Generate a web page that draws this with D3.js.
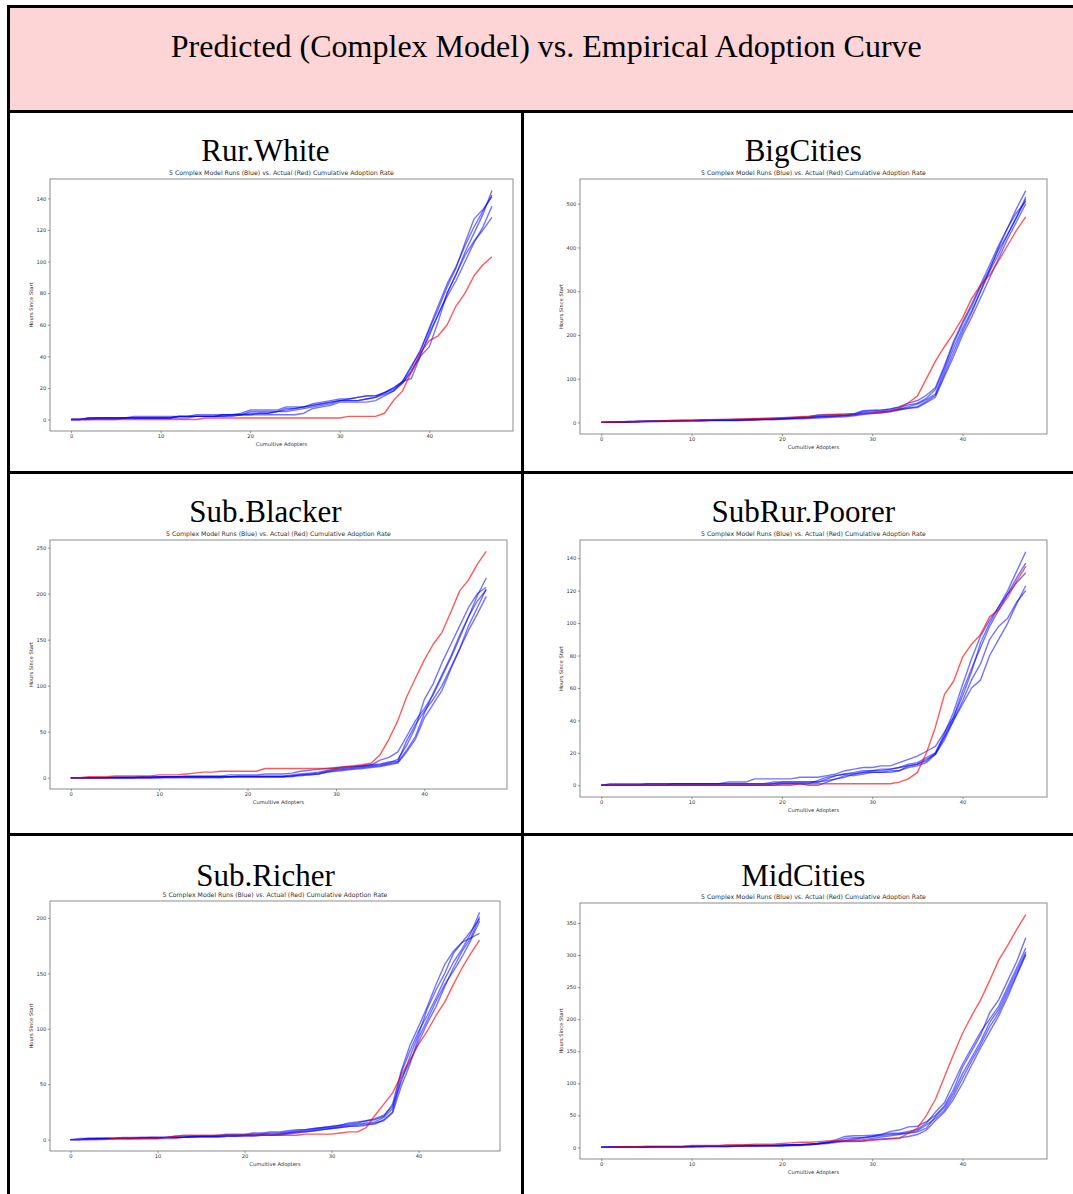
<!DOCTYPE html>
<html>
<head>
<meta charset="utf-8">
<script src="https://cdn.jsdelivr.net/npm/d3@7"></script>
<style>
  html, body { margin: 0; padding: 0; background: #fff; }
  svg { display: block; }
  .tick text { font-family: "DejaVu Sans", sans-serif; fill: #333; }
</style>
</head>
<body>
<svg id="chart" width="1073" height="1194"></svg>
<script>
// ---- Page heading and panel names ----
const pageTitle = "Predicted (Complex Model) vs. Empirical Adoption Curve";
const panelNames = ["Rur.White", "BigCities", "Sub.Blacker", "SubRur.Poorer", "Sub.Richer", "MidCities"];
const plotTitle = "5 Complex Model Runs (Blue) vs. Actual (Red) Cumulative Adoption Rate";
const xLabel = "Cumultive Adopters";
const yLabel = "Hours Since Start";

// ---- Tick labels ----
const xTicks = [0, 10, 20, 30, 40];
const yTicksRurWhite = [0, 20, 40, 60, 80, 100, 120, 140];
const yTicksBigCities = [0, 100, 200, 300, 400, 500];
const yTicksSubBlacker = [0, 50, 100, 150, 200, 250];
const yTicksSubRurPoorer = [0, 20, 40, 60, 80, 100, 120, 140];
const yTicksSubRicher = [0, 50, 100, 150, 200];
const yTicksMidCities = [0, 50, 100, 150, 200, 250, 300, 350];

// ---- Hours since start, indexed by cumulative adopters 0..47 ----
const actualRurWhite = [0,0,0,0,0,0,0,0,0,0,0,0,0,0,0,1,1,1,1,1,1,1,1,1,1,1,1,1,1,1,1,2,2,2,2,4,12,18,30,42,50,53,60,72,80,91,98,103];
const runsRurWhite = [
  [0,0,1,1,1,1,1,2,2,2,2,2,2,2,3,3,3,3,3,4,6,6,6,6,8,8,8,10,11,12,13,13,14,15,15,17,20,24,33,44,57,70,84,96,112,127,133,141],
  [0,0,0,1,1,1,1,1,1,1,1,1,2,2,2,2,2,2,3,3,4,4,4,5,6,7,8,9,10,11,12,12,12,13,14,17,19,23,30,40,55,66,80,92,104,113,120,128],
  [0,0,1,1,1,1,1,1,1,1,1,1,2,2,2,2,2,3,3,3,3,3,3,3,3,3,4,7,8,9,11,11,11,11,12,15,18,24,26,40,46,62,80,92,106,118,130,145],
  [0,0,0,0,0,0,1,1,1,1,1,1,2,2,2,2,2,2,2,3,3,4,4,5,5,6,7,8,9,10,12,12,12,13,14,16,18,23,31,41,53,67,78,88,100,112,122,135],
  [0,0,1,1,1,1,1,1,1,1,1,1,1,1,2,2,2,3,3,3,5,5,5,5,7,7,8,9,10,11,12,13,14,15,15,17,20,24,34,43,58,72,86,97,110,122,132,142]
];

const actualBigCities = [0,1,1,2,2,3,3,4,4,5,5,6,6,7,7,8,8,9,9,10,11,12,13,14,16,17,18,19,20,20,21,22,25,32,45,60,100,140,173,204,239,283,314,337,370,405,440,470];
const runsBigCities = [
  [0,0,1,1,2,3,3,3,4,4,4,4,5,5,5,5,6,7,8,8,9,10,11,12,14,15,15,16,18,22,24,25,27,30,33,36,48,62,110,160,208,250,300,350,400,445,490,530],
  [0,1,1,2,2,3,4,4,5,5,5,6,6,6,7,7,8,8,9,9,10,11,12,13,17,18,18,19,20,27,28,28,30,34,40,44,55,75,125,180,225,265,310,350,395,430,470,515],
  [0,0,1,1,2,2,2,3,3,3,4,4,4,5,5,5,6,6,7,7,8,9,10,11,12,13,14,15,17,20,22,24,26,30,36,42,52,65,118,170,215,255,300,345,385,430,470,510],
  [0,1,1,1,2,2,3,3,3,4,4,4,5,5,5,6,6,7,7,8,8,9,10,11,13,14,15,16,19,25,27,28,31,36,44,50,62,80,130,185,230,270,315,360,405,445,480,505],
  [0,0,0,1,1,2,2,2,3,3,3,3,4,4,4,4,5,5,6,6,7,8,8,9,10,11,12,13,15,18,20,22,24,28,32,34,45,58,105,150,200,240,285,330,375,420,460,500]
];

const actualSubBlacker = [0,0,1,1,1,2,2,2,2,2,3,3,3,4,5,6,6,7,7,7,7,7,10,10,10,10,10,10,10,10,10,12,13,14,16,25,42,62,88,108,128,145,158,180,203,215,232,246];
const runsSubBlacker = [
  [0,0,0,0,0,1,1,1,1,1,1,1,1,2,2,2,2,2,3,3,3,3,4,4,4,5,7,8,9,10,11,12,12,13,14,19,22,28,45,62,75,90,110,130,152,175,198,217],
  [0,0,0,0,0,0,0,0,0,0,1,1,1,1,1,1,1,1,1,1,1,1,1,1,1,2,3,4,5,7,9,10,11,12,13,14,16,20,35,55,85,102,125,145,165,185,200,207],
  [0,0,0,0,0,0,0,0,1,1,1,1,1,1,1,1,1,1,1,2,2,2,2,2,2,3,4,5,6,8,10,11,12,13,14,15,17,18,40,58,72,85,100,120,140,165,185,205],
  [0,0,0,0,0,0,0,0,0,0,0,1,1,1,1,1,1,1,1,1,1,1,1,1,1,1,3,3,4,6,8,9,10,11,12,13,15,17,30,45,70,92,112,132,155,175,192,204],
  [0,0,0,0,0,0,0,0,0,0,0,0,0,0,0,0,0,0,1,1,1,1,1,1,1,2,2,3,4,6,7,8,9,10,11,12,14,16,28,42,65,80,95,118,140,160,178,197]
];

const actualSubRurPoorer = [0,0,0,0,0,0,0,0,0,0,0,0,0,0,0,0,0,0,0,0,0,0,1,1,1,1,1,1,1,1,1,1,1,2,4,8,20,36,56,64,79,87,93,104,108,116,126,135];
const runsSubRurPoorer = [
  [0,1,1,1,1,1,1,1,1,1,1,1,1,1,2,2,2,4,4,4,4,4,5,5,5,6,7,9,10,11,11,12,12,14,16,18,21,24,33,42,55,70,88,100,110,120,132,144],
  [0,0,0,0,0,0,0,0,1,1,1,1,1,1,1,1,1,1,1,2,2,2,2,2,2,4,6,7,8,9,9,10,10,11,13,14,17,20,32,45,62,78,92,102,110,118,128,137],
  [0,0,0,0,0,1,1,1,1,1,1,1,1,1,1,1,1,1,1,1,2,2,2,2,2,3,4,5,7,8,8,8,9,9,12,13,15,20,30,42,58,72,85,98,108,118,125,131],
  [0,0,0,0,0,0,0,0,0,0,0,0,0,0,0,0,0,0,0,0,1,1,1,0,0,2,4,6,6,7,8,8,8,9,11,12,14,19,28,40,50,60,65,80,90,100,112,123],
  [0,0,0,0,0,0,0,0,0,0,0,0,0,0,0,0,0,0,0,1,1,1,1,1,3,5,6,7,7,8,9,9,10,11,12,13,16,19,30,40,52,65,75,90,98,103,113,120]
];

const actualSubRicher = [0,0,0,0,0,1,1,1,1,1,1,2,3,4,4,4,4,4,4,4,4,4,4,4,4,4,4,5,5,5,5,6,7,7,11,22,32,42,58,72,86,98,112,124,140,155,168,180];
const runsSubRicher = [
  [0,1,1,1,1,1,2,2,2,2,2,2,3,3,3,3,3,4,5,5,5,6,6,7,7,8,9,9,10,11,12,13,15,16,17,19,22,30,52,75,95,118,135,150,168,178,188,199],
  [0,0,1,1,1,1,1,1,1,2,2,2,2,2,3,3,3,3,4,4,4,4,5,5,5,6,7,8,9,10,11,12,13,14,15,16,20,28,60,80,98,112,128,145,160,172,186,205],
  [0,0,0,1,1,1,1,1,1,1,1,2,2,2,2,3,3,3,3,3,4,4,4,4,4,5,6,7,8,9,10,11,12,13,14,14,18,25,55,70,88,105,120,138,155,170,182,201],
  [0,0,0,0,1,1,1,1,1,1,1,1,1,2,2,2,2,2,3,3,3,3,4,4,5,6,7,7,8,9,10,11,12,12,13,15,17,24,48,68,92,108,125,140,152,165,180,197],
  [0,0,1,1,1,1,1,1,2,2,2,2,2,2,3,3,3,3,4,4,4,5,5,6,6,7,8,9,10,11,12,13,14,15,17,18,21,32,62,85,102,120,140,158,170,178,182,186]
];

const actualMidCities = [0,0,1,1,1,2,2,2,2,2,3,3,3,3,4,4,4,5,5,5,6,7,8,8,9,10,10,10,10,10,11,12,13,14,22,30,50,75,110,145,178,205,230,260,292,315,340,363];
const runsMidCities = [
  [1,1,1,1,1,1,1,1,1,1,2,2,2,2,2,3,3,3,3,3,4,4,4,5,6,8,12,17,18,18,19,20,25,27,32,33,40,50,65,90,125,150,175,210,230,260,290,327],
  [0,1,1,1,1,1,1,1,1,1,2,2,2,2,2,2,3,3,3,3,3,4,4,5,6,8,10,14,15,15,17,20,22,22,25,28,38,55,70,100,130,155,180,200,220,250,280,311],
  [0,0,1,1,1,1,1,1,1,1,1,2,2,2,2,2,3,3,3,3,3,4,4,5,6,7,9,10,11,12,14,16,18,20,22,24,30,48,62,85,115,140,165,195,215,245,275,305],
  [0,0,0,1,1,1,1,1,1,1,1,1,2,2,2,2,2,2,3,3,3,3,4,4,5,7,9,11,13,15,17,18,20,21,23,26,35,45,58,80,108,135,160,188,210,240,270,302],
  [0,0,0,0,0,0,1,1,1,1,1,1,1,1,1,2,2,2,2,2,2,3,3,4,5,6,8,9,9,10,12,13,14,15,17,20,27,42,55,75,100,128,155,180,205,235,268,300]
];

// ---- Panel table: data sets and plot frames inside the grid cells ----
const panels = [
  { name: panelNames[0], runs: runsRurWhite,     actual: actualRurWhite,     yTicks: yTicksRurWhite,     frame: {l: 50,  r: 513,  t: 179, b: 431},  labelY: 161 },
  { name: panelNames[1], runs: runsBigCities,    actual: actualBigCities,    yTicks: yTicksBigCities,    frame: {l: 580, r: 1047, t: 179, b: 434},  labelY: 161 },
  { name: panelNames[2], runs: runsSubBlacker,   actual: actualSubBlacker,   yTicks: yTicksSubBlacker,   frame: {l: 50,  r: 507,  t: 540, b: 789},  labelY: 522 },
  { name: panelNames[3], runs: runsSubRurPoorer, actual: actualSubRurPoorer, yTicks: yTicksSubRurPoorer, frame: {l: 580, r: 1047, t: 540, b: 797},  labelY: 522 },
  { name: panelNames[4], runs: runsSubRicher,    actual: actualSubRicher,    yTicks: yTicksSubRicher,    frame: {l: 50,  r: 500,  t: 901, b: 1151}, labelY: 886 },
  { name: panelNames[5], runs: runsMidCities,    actual: actualMidCities,    yTicks: yTicksMidCities,    frame: {l: 580, r: 1047, t: 903, b: 1159}, labelY: 886 }
];

const svg = d3.select("#chart");

// ---- Grid geometry ----
const gridLeft = 8.5, gridRight = 1084, gridTop = 6.5, headerBottom = 111.5, colSplit = 522.5;
const rowLines = [472.5, 834.5];
const border = 3;

svg.append("rect")
  .attr("x", gridLeft).attr("y", gridTop)
  .attr("width", gridRight - gridLeft).attr("height", headerBottom - gridTop)
  .attr("fill", "#fed5d6");

svg.append("text")
  .attr("x", (gridLeft + gridRight) / 2).attr("y", 57)
  .attr("text-anchor", "middle")
  .attr("font-family", "'Liberation Serif', 'Times New Roman', serif")
  .attr("font-size", 32)
  .attr("fill", "#000")
  .text(pageTitle);

const gridLines = svg.append("g").attr("stroke", "#000").attr("stroke-width", border);
gridLines.append("line").attr("x1", gridLeft - 1.5).attr("x2", gridRight).attr("y1", gridTop).attr("y2", gridTop);
gridLines.append("line").attr("x1", gridLeft).attr("x2", gridLeft).attr("y1", gridTop).attr("y2", 1194);
gridLines.append("line").attr("x1", gridLeft).attr("x2", gridRight).attr("y1", headerBottom).attr("y2", headerBottom);
gridLines.append("line").attr("x1", colSplit).attr("x2", colSplit).attr("y1", headerBottom).attr("y2", 1194);
rowLines.forEach(y => gridLines.append("line").attr("x1", gridLeft).attr("x2", gridRight).attr("y1", y).attr("y2", y));

// ---- One matplotlib-style line chart per cell ----
const smallFont = "'DejaVu Sans', sans-serif";

panels.forEach((p, i) => {
  const f = p.frame;
  const cellCenter = i % 2 === 0 ? (gridLeft + colSplit) / 2 : (colSplit + gridRight) / 2;
  const n = p.actual.length;

  // autoscale with 5% margins on both axes
  const xPad = (n - 1) * 0.05;
  const x = d3.scaleLinear().domain([-xPad, n - 1 + xPad]).range([f.l, f.r]);
  const all = p.runs.flat().concat(p.actual);
  const [yMin, yMax] = d3.extent(all);
  const yPad = (yMax - yMin) * 0.05;
  const y = d3.scaleLinear().domain([yMin - yPad, yMax + yPad]).range([f.b, f.t]);

  const g = svg.append("g");

  // cell heading
  g.append("text")
    .attr("x", cellCenter).attr("y", p.labelY)
    .attr("text-anchor", "middle")
    .attr("font-family", "'Liberation Serif', 'Times New Roman', serif")
    .attr("font-size", 31)
    .attr("fill", "#000")
    .text(p.name);

  // plot title
  g.append("text")
    .attr("x", (f.l + f.r) / 2).attr("y", f.t - 4)
    .attr("text-anchor", "middle")
    .attr("font-family", smallFont).attr("font-size", 6.2).attr("fill", "#333")
    .text(plotTitle);

  const line = d3.line().x((d, k) => x(k)).y(d => y(d));

  const clipId = "clip" + i;
  g.append("clipPath").attr("id", clipId)
    .append("rect").attr("x", f.l).attr("y", f.t).attr("width", f.r - f.l).attr("height", f.b - f.t);

  const plot = g.append("g").attr("clip-path", `url(#${clipId})`);
  p.runs.forEach(run => {
    plot.append("path").datum(run)
      .attr("d", line)
      .attr("fill", "none")
      .attr("stroke", "#0000ff")
      .attr("stroke-opacity", 0.55)
      .attr("stroke-width", 1.4)
      .attr("stroke-linejoin", "round");
  });
  plot.append("path").datum(p.actual)
    .attr("d", line)
    .attr("fill", "none")
    .attr("stroke", "#ff0000")
    .attr("stroke-opacity", 0.65)
    .attr("stroke-width", 1.4)
    .attr("stroke-linejoin", "round");

  // frame
  g.append("rect")
    .attr("x", f.l).attr("y", f.t).attr("width", f.r - f.l).attr("height", f.b - f.t)
    .attr("fill", "none").attr("stroke", "#808080").attr("stroke-width", 0.9);

  // axes
  const xAxis = g.append("g").attr("transform", `translate(0,${f.b})`)
    .call(d3.axisBottom(x).tickValues(xTicks).tickSize(2.2).tickPadding(1.5));
  const yAxis = g.append("g").attr("transform", `translate(${f.l},0)`)
    .call(d3.axisLeft(y).tickValues(p.yTicks).tickSize(2.2).tickPadding(1.5));
  [xAxis, yAxis].forEach(a => {
    a.select(".domain").remove();
    a.selectAll(".tick line").attr("stroke", "#555").attr("stroke-width", 0.6);
    a.selectAll(".tick text").attr("font-size", 5.2).attr("fill", "#333");
  });

  // axis titles
  g.append("text")
    .attr("x", (f.l + f.r) / 2).attr("y", f.b + 15)
    .attr("text-anchor", "middle")
    .attr("font-family", smallFont).attr("font-size", 5.2).attr("fill", "#333")
    .text(xLabel);
  g.append("text")
    .attr("transform", `translate(${f.l - 17},${(f.t + f.b) / 2}) rotate(-90)`)
    .attr("text-anchor", "middle")
    .attr("font-family", smallFont).attr("font-size", 5.2).attr("fill", "#333")
    .text(yLabel);
});
</script>
</body>
</html>
